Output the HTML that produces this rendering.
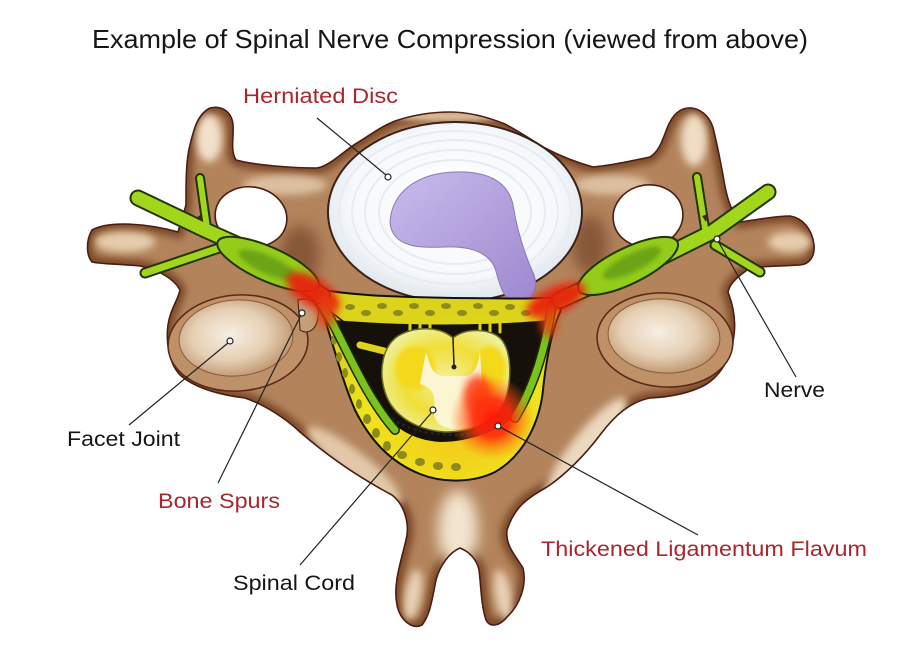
<!DOCTYPE html>
<html><head><meta charset="utf-8"><style>
html,body{margin:0;padding:0;background:#fff;}
svg{display:block;}
text{font-family:"Liberation Sans",Arial,sans-serif;}
</style></head><body>
<svg width="900" height="668" viewBox="0 0 900 668" xmlns="http://www.w3.org/2000/svg">
<defs>
<filter id="b2" x="-50%" y="-50%" width="200%" height="200%"><feGaussianBlur stdDeviation="2"/></filter>
<filter id="b4" x="-50%" y="-50%" width="200%" height="200%"><feGaussianBlur stdDeviation="4"/></filter>
<filter id="b7" x="-50%" y="-50%" width="200%" height="200%"><feGaussianBlur stdDeviation="7"/></filter>
<radialGradient id="disc" cx="50%" cy="45%" r="55%"><stop offset="0" stop-color="#ffffff"/><stop offset="0.75" stop-color="#f6f8fb"/><stop offset="1" stop-color="#dfe6ee"/></radialGradient>
<radialGradient id="facet" cx="45%" cy="45%" r="60%"><stop offset="0" stop-color="#f7eee3"/><stop offset="0.55" stop-color="#e6d0b5"/><stop offset="1" stop-color="#bb9068"/></radialGradient>
<linearGradient id="purp" x1="0" y1="0" x2="1" y2="1"><stop offset="0" stop-color="#c9bbec"/><stop offset="1" stop-color="#9d88cf"/></linearGradient>
<radialGradient id="red1"><stop offset="0" stop-color="#ff1808"/><stop offset="0.45" stop-color="#ff2a0c" stop-opacity="0.9"/><stop offset="1" stop-color="#ff7a10" stop-opacity="0"/></radialGradient>
<radialGradient id="cordg" cx="50%" cy="50%" r="55%"><stop offset="0" stop-color="#f7ef9a"/><stop offset="0.6" stop-color="#f0de38"/><stop offset="1" stop-color="#eef19a"/></radialGradient>
<radialGradient id="canalg" cx="60%" cy="75%" r="60%"><stop offset="0" stop-color="#f5c81a"/><stop offset="0.6" stop-color="#eee41e"/><stop offset="1" stop-color="#dcd41c"/></radialGradient>
<clipPath id="bone"><path id="bp" d="M92,230 C110,220 150,224 178,232 L186,205 C186,180 186,160 190,145 C194,128 198,114 210,108 C222,105 232,112 233,125 C234,138 230,150 236,160 C255,165 290,168 317,168 C330,166 345,150 357,143 C370,135 380,127 395,121 C410,116 430,112 450,112 C470,112 490,118 505,124 C520,132 535,142 545,148 C560,156 575,162 593,167 C615,165 635,160 650,157 C662,150 665,130 670,122 C675,112 683,107 692,108 C704,110 712,120 714,132 C718,148 720,160 723,175 C726,195 730,210 740,222 C755,220 775,216 790,216 C802,218 812,228 814,245 C815,256 810,264 800,265 C785,266 765,266 750,268 C740,275 730,282 728,292 C733,305 736,320 734,335 C732,355 722,375 705,385 C690,393 670,397 650,398 C630,402 615,415 600,435 C585,455 565,475 547,487 C530,497 515,505 507,530 C505,545 515,555 523,568 C527,585 520,605 507,617 C500,626 490,628 486,620 C481,605 481,585 479,570 C477,560 470,552 460,548 C450,552 440,565 436,580 C432,600 430,615 422,625 C412,630 400,620 397,605 C393,585 400,565 406,540 C410,525 405,505 392,495 C360,478 330,458 300,432 C285,418 265,405 245,398 C220,395 195,388 180,375 C168,362 166,340 168,325 C170,310 178,300 180,290 C175,280 160,270 140,266 C120,264 100,264 92,262 C86,255 86,240 92,230 Z"/></clipPath>
</defs>

<!-- Title -->
<text x="92" y="48" font-size="26" fill="#161616" textLength="716" lengthAdjust="spacingAndGlyphs">Example of Spinal Nerve Compression (viewed from above)</text>

<!-- Bone base -->
<use href="#bp" fill="#b3845c"/>
<g clip-path="url(#bone)">
  <use href="#bp" fill="none" stroke="#7a4626" stroke-width="12" filter="url(#b4)"/>
  <ellipse cx="209" cy="138" rx="13" ry="24" fill="#f2e0ca" filter="url(#b4)"/>
  <ellipse cx="125" cy="242" rx="30" ry="10" fill="#e6cdae" filter="url(#b4)"/>
  <ellipse cx="694" cy="140" rx="13" ry="26" fill="#f0dcc4" filter="url(#b4)"/>
  <ellipse cx="790" cy="242" rx="22" ry="10" fill="#e6cdae" filter="url(#b4)"/>
  <ellipse cx="285" cy="185" rx="42" ry="10" fill="#ddc0a0" filter="url(#b4)"/>
  <ellipse cx="612" cy="185" rx="38" ry="10" fill="#ddc0a0" filter="url(#b4)"/>
  <ellipse cx="458" cy="530" rx="20" ry="40" fill="#f2e4ce" filter="url(#b7)"/>
  <ellipse cx="355" cy="465" rx="60" ry="13" transform="rotate(38 355 465)" fill="#e2c8a8" filter="url(#b4)"/>
  <ellipse cx="585" cy="450" rx="65" ry="15" transform="rotate(-52 585 450)" fill="#ecd8be" filter="url(#b4)"/>
  <ellipse cx="413" cy="595" rx="8" ry="26" transform="rotate(10 413 595)" fill="#e8d2b6" filter="url(#b4)"/>
  <ellipse cx="503" cy="595" rx="8" ry="26" transform="rotate(-10 503 595)" fill="#e8d2b6" filter="url(#b4)"/>
  <ellipse cx="450" cy="116" rx="70" ry="5" fill="#d8b894" filter="url(#b2)"/>
  <ellipse cx="300" cy="255" rx="20" ry="30" fill="#6a3b20" filter="url(#b7)" opacity="0.6"/>
  <ellipse cx="590" cy="245" rx="18" ry="30" fill="#6a3b20" filter="url(#b7)" opacity="0.6"/>
</g>
<use href="#bp" fill="none" stroke="#4a1e14" stroke-width="1.6"/>

<!-- foramina holes -->
<ellipse cx="251" cy="217" rx="36" ry="30" transform="rotate(10 251 217)" fill="#fff" stroke="#4a1e14" stroke-width="1.6"/>
<ellipse cx="648" cy="216" rx="35" ry="31" transform="rotate(-10 648 216)" fill="#fff" stroke="#4a1e14" stroke-width="1.6"/>

<!-- facets -->
<ellipse cx="238" cy="343" rx="70" ry="48" transform="rotate(-4 238 343)" fill="#bf9168" stroke="#5a2a18" stroke-width="1.6"/>
<ellipse cx="236" cy="338" rx="57" ry="38" transform="rotate(-4 236 338)" fill="url(#facet)" stroke="#8a5836" stroke-width="1"/>
<path d="M298,300 C312,296 320,305 318,318 C316,330 308,335 300,330 Z" fill="#c49e78" stroke="#5a2a18" stroke-width="1.2"/>
<ellipse cx="665" cy="340" rx="68" ry="47" transform="rotate(4 665 340)" fill="#bf9168" stroke="#5a2a18" stroke-width="1.6"/>
<ellipse cx="664" cy="336" rx="56" ry="37" transform="rotate(4 664 336)" fill="url(#facet)" stroke="#8a5836" stroke-width="1"/>

<!-- disc -->
<ellipse cx="455" cy="212" rx="127" ry="90" fill="url(#disc)" stroke="#3a2216" stroke-width="2"/>
<g fill="none" stroke="#e6ecf2" stroke-width="2">
  <ellipse cx="455" cy="212" rx="116" ry="81"/>
  <ellipse cx="455" cy="212" rx="103" ry="72"/>
  <ellipse cx="455" cy="212" rx="90" ry="62"/>
  <ellipse cx="455" cy="212" rx="76" ry="52"/>
</g>
<path d="M390,222 C392,190 420,173 455,172 C485,171 508,180 513,205 C517,230 525,255 534,275 C540,292 528,305 515,302 C502,298 500,285 495,268 C488,252 470,246 445,247 C420,248 392,248 390,222 Z" fill="url(#purp)" stroke="#8a78b8" stroke-width="1"/>

<!-- canal -->
<path d="M300,285 C340,296 400,297 455,298 C500,298 540,300 565,296 L560,312 C552,330 546,360 543,390 C540,420 525,455 495,472 C475,482 445,484 420,474 C390,462 370,440 355,410 C342,380 335,350 325,320 C318,305 308,295 300,285 Z" fill="url(#canalg)" stroke="#111" stroke-width="2"/>
<path d="M335,320 C400,326 490,326 548,320 C545,350 535,385 520,410 C505,430 470,442 440,442 C410,440 390,425 378,405 C360,380 348,350 335,320 Z" fill="#15110a"/>
<g fill="#8e8a1c">
  <ellipse cx="350" cy="307" rx="5" ry="3"/><ellipse cx="366" cy="313" rx="5" ry="3"/><ellipse cx="382" cy="306" rx="5" ry="3"/><ellipse cx="398" cy="313" rx="5" ry="3"/><ellipse cx="414" cy="306" rx="5" ry="3"/><ellipse cx="430" cy="313" rx="5" ry="3"/><ellipse cx="446" cy="306" rx="5" ry="3"/><ellipse cx="462" cy="313" rx="5" ry="3"/><ellipse cx="478" cy="306" rx="5" ry="3"/><ellipse cx="494" cy="313" rx="5" ry="3"/><ellipse cx="510" cy="307" rx="5" ry="3"/><ellipse cx="526" cy="313" rx="5" ry="3"/>
  <ellipse cx="334" cy="340" rx="3" ry="5"/><ellipse cx="339" cy="357" rx="3" ry="5"/><ellipse cx="345" cy="373" rx="3" ry="5"/><ellipse cx="352" cy="389" rx="3" ry="5"/><ellipse cx="359" cy="404" rx="3" ry="5"/><ellipse cx="367" cy="419" rx="4" ry="5"/><ellipse cx="376" cy="433" rx="4" ry="5"/><ellipse cx="387" cy="446" rx="4" ry="5"/>
  <ellipse cx="402" cy="455" rx="5" ry="4"/><ellipse cx="420" cy="462" rx="5" ry="4"/><ellipse cx="438" cy="466" rx="5" ry="4"/><ellipse cx="456" cy="467" rx="5" ry="4"/>
</g>
<path d="M300,288 L344,322" stroke="#111" stroke-width="1.5" fill="none"/>
<!-- roots in canal -->
<g fill="none" stroke-linecap="round">
  <path d="M318,298 C340,330 360,390 395,430" stroke="#1f2a06" stroke-width="10"/>
  <path d="M318,298 C340,330 360,390 395,430" stroke="#7cc21e" stroke-width="7"/>
  <path d="M360,345 L388,352" stroke="#e2d21e" stroke-width="7"/>
  <path d="M552,305 C546,345 535,385 515,418" stroke="#1f2a06" stroke-width="10"/>
  <path d="M552,305 C546,345 535,385 515,418" stroke="#7cc21e" stroke-width="7"/>
  <path d="M410,322 L410,332 M420,322 L420,332 M430,322 L430,332 M480,322 L480,332 M490,322 L490,332 M500,322 L500,332" stroke="#e0d020" stroke-width="3"/>
</g>

<!-- spinal cord -->
<path d="M453,338 C440,326 415,326 398,336 C383,346 378,370 385,392 C392,415 415,430 445,432 C475,432 495,420 505,400 C512,380 512,350 500,338 C488,328 465,328 453,338 Z" fill="url(#cordg)" stroke="#6a6a20" stroke-width="1.5"/>
<g fill="#f4d81e" filter="url(#b2)">
  <ellipse cx="415" cy="368" rx="20" ry="22"/><ellipse cx="490" cy="368" rx="16" ry="22"/>
</g>
<path d="M426,352 C430,365 432,374 442,376 L466,376 C476,374 478,364 480,352 L482,384 C472,388 474,398 476,412 C477,422 470,428 455,429 C440,429 432,420 434,408 C436,394 432,388 420,384 Z" fill="#fbf5d2"/>
<path d="M453,338 L454,366" stroke="#222" stroke-width="1.5"/><circle cx="454" cy="367" r="2.5" fill="#222"/>
<path d="M392,418 C415,437 470,440 500,426" fill="none" stroke="#222" stroke-width="2.5" stroke-dasharray="3 3"/>

<!-- nerves -->
<g fill="none" stroke-linecap="round" stroke-linejoin="round">
  <path d="M138,198 L205,230 L250,250" stroke="#24340a" stroke-width="17"/>
  <path d="M200,178 L207,228" stroke="#24340a" stroke-width="10"/>
  <path d="M145,273 L225,246" stroke="#24340a" stroke-width="11"/>
  <path d="M290,276 L322,296" stroke="#24340a" stroke-width="18"/>
  <path d="M138,198 L205,230 L250,250" stroke="#a2d61c" stroke-width="13"/>
  <path d="M200,178 L207,228" stroke="#a2d61c" stroke-width="6"/>
  <path d="M145,273 L225,246" stroke="#a2d61c" stroke-width="7"/>
  <path d="M290,276 L322,296" stroke="#a2d61c" stroke-width="14"/>
  <path d="M768,192 L712,232 L660,258" stroke="#24340a" stroke-width="17"/>
  <path d="M697,177 L705,228" stroke="#24340a" stroke-width="10"/>
  <path d="M760,272 L715,245" stroke="#24340a" stroke-width="11"/>
  <path d="M600,282 L560,300" stroke="#24340a" stroke-width="18"/>
  <path d="M768,192 L712,232 L660,258" stroke="#a2d61c" stroke-width="13"/>
  <path d="M697,177 L705,228" stroke="#a2d61c" stroke-width="6"/>
  <path d="M760,272 L715,245" stroke="#a2d61c" stroke-width="7"/>
  <path d="M600,282 L560,300" stroke="#a2d61c" stroke-width="14"/>
</g>
<path d="M196,218 L202,214 L203,222 Z" fill="#3a2a10"/>
<path d="M702,216 L708,214 L706,222 Z" fill="#3a2a10"/>
<ellipse cx="268" cy="264" rx="55" ry="17" transform="rotate(24 268 264)" fill="#94cc1a" stroke="#24340a" stroke-width="2"/>
<ellipse cx="268" cy="265" rx="32" ry="9" transform="rotate(24 268 265)" fill="#6da412" filter="url(#b2)"/>
<ellipse cx="628" cy="266" rx="55" ry="18" transform="rotate(-26 628 266)" fill="#94cc1a" stroke="#24340a" stroke-width="2"/>
<ellipse cx="632" cy="263" rx="32" ry="9" transform="rotate(-26 632 263)" fill="#6da412" filter="url(#b2)"/>

<!-- red inflammation -->
<ellipse cx="313" cy="292" rx="30" ry="14" transform="rotate(32 313 292)" fill="#e8200c" filter="url(#b4)" opacity="0.95"/>
<ellipse cx="326" cy="312" rx="10" ry="16" fill="#e8400c" filter="url(#b4)" opacity="0.8"/>
<ellipse cx="556" cy="300" rx="32" ry="13" transform="rotate(-24 556 300)" fill="#e8200c" filter="url(#b4)" opacity="0.95"/>
<ellipse cx="549" cy="322" rx="9" ry="16" fill="#e8400c" filter="url(#b4)" opacity="0.8"/>
<circle cx="492" cy="418" r="42" fill="url(#red1)"/>
<ellipse cx="478" cy="395" rx="14" ry="20" fill="#ff3010" filter="url(#b4)" opacity="0.8"/>

<!-- leader lines -->
<g stroke="#222" stroke-width="1.2" fill="none">
  <path d="M317,118 L386,175"/>
  <path d="M718,241 L796,377"/>
  <path d="M228,343 L129,425"/>
  <path d="M301,315 L218,483"/>
  <path d="M432,412 L300,565"/>
  <path d="M500,427 L698,535"/>
</g>
<g fill="#fff" stroke="#222" stroke-width="1.2">
  <circle cx="388" cy="177" r="3"/>
  <circle cx="717" cy="239" r="3"/>
  <circle cx="230" cy="341" r="3"/>
  <circle cx="302" cy="313" r="3"/>
  <circle cx="433" cy="410" r="3"/>
  <circle cx="498" cy="426" r="3"/>
</g>

<!-- labels -->
<text x="243" y="103" font-size="21" fill="#a8262c" textLength="155" lengthAdjust="spacingAndGlyphs">Herniated Disc</text>
<text x="764" y="397" font-size="21" fill="#161616" textLength="61" lengthAdjust="spacingAndGlyphs">Nerve</text>
<text x="67" y="446" font-size="21" fill="#161616" textLength="113" lengthAdjust="spacingAndGlyphs">Facet Joint</text>
<text x="158" y="508" font-size="21" fill="#a8262c" textLength="122" lengthAdjust="spacingAndGlyphs">Bone Spurs</text>
<text x="541" y="556" font-size="21" fill="#a8262c" textLength="326" lengthAdjust="spacingAndGlyphs">Thickened Ligamentum Flavum</text>
<text x="233" y="590" font-size="21" fill="#161616" textLength="122" lengthAdjust="spacingAndGlyphs">Spinal Cord</text>
</svg>
</body></html>
